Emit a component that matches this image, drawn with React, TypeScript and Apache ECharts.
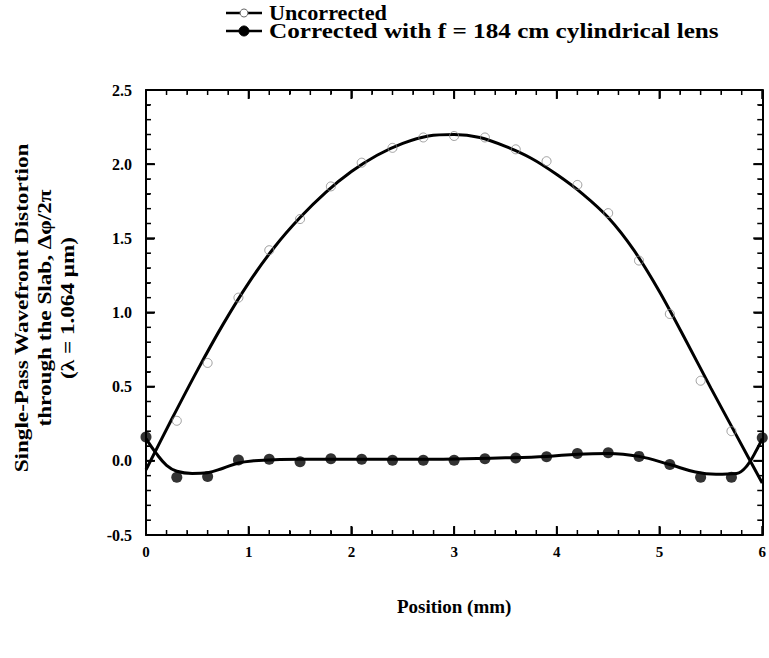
import React, { useEffect, useRef } from "react";
import * as echarts from "echarts";

// Measured positions (mm) of the data points
const pointX = [0, 0.3, 0.6, 0.9, 1.2, 1.5, 1.8, 2.1, 2.4, 2.7, 3.0, 3.3, 3.6, 3.9, 4.2, 4.5, 4.8, 5.1, 5.4, 5.7, 6.0];
// Uncorrected measured points (open circles); null where not visible
const uncorrectedPts = [null, 0.27, 0.66, 1.1, 1.42, 1.63, 1.85, 2.01, 2.11, 2.18, 2.19, 2.18, 2.1, 2.02, 1.86, 1.67, 1.35, 0.99, 0.54, 0.2, null];
// Corrected measured points (filled circles)
const correctedPts = [0.16, -0.11, -0.105, 0.005, 0.01, -0.006, 0.014, 0.01, 0.004, 0.004, 0.004, 0.014, 0.019, 0.027, 0.05, 0.055, 0.03, -0.025, -0.11, -0.11, 0.156];

// Fitted curve through the uncorrected data
const uncorrFitX = [0, 0.25, 0.5, 0.75, 1.0, 1.25, 1.5, 1.75, 2.0, 2.25, 2.5, 2.75, 3.0, 3.25, 3.5, 3.75, 4.0, 4.25, 4.5, 4.75, 5.0, 5.25, 5.5, 5.75, 6.0];
const uncorrFitY = [-0.06, 0.28, 0.61, 0.92, 1.2, 1.44, 1.64, 1.81, 1.95, 2.06, 2.14, 2.19, 2.2, 2.18, 2.12, 2.04, 1.93, 1.8, 1.64, 1.42, 1.14, 0.82, 0.49, 0.17, -0.15];

// Fitted curve through the corrected data
const corrFitX = [0, 0.1, 0.2, 0.3, 0.45, 0.6, 0.75, 0.9, 1.05, 1.25, 1.5, 2.0, 2.5, 3.0, 3.5, 3.9, 4.2, 4.5, 4.8, 5.1, 5.35, 5.55, 5.75, 5.85, 5.95, 6.0];
const corrFitY = [0.15, 0.05, -0.03, -0.07, -0.085, -0.08, -0.05, -0.015, 0.0, 0.008, 0.01, 0.01, 0.01, 0.012, 0.02, 0.03, 0.045, 0.05, 0.03, -0.025, -0.075, -0.09, -0.085, -0.035, 0.08, 0.15];

// Axis scales
const X_MIN = 0, X_MAX = 6, X_STEP = 1, X_MINOR = 5;
const Y_MIN = -0.5, Y_MAX = 2.5, Y_STEP = 0.5, Y_MINOR = 5;

const legendLabels = ["Uncorrected", "Corrected with f = 184 cm cylindrical lens"];
const yAxisTitle = ["Single-Pass Wavefront Distortion", "through the Slab, \u0394\u03c6/2\u03c0", "(\u03bb = 1.064 \u03bcm)"];
const xAxisTitle = "Position (mm)";

const FONT = '"Liberation Serif", "Times New Roman", serif';

function tickValues(min: number, max: number, step: number, minor: number) {
  const out: { v: number; major: boolean }[] = [];
  const n = Math.round((max - min) / step) * minor;
  for (let i = 0; i <= n; i++) {
    out.push({ v: +(min + (i * step) / minor).toFixed(6), major: i % minor === 0 });
  }
  return out;
}

function frame() {
  return {
    axisLine: { show: true, onZero: false, lineStyle: { color: "#000", width: 2 } },
    axisTick: { show: true, inside: true, length: 8, lineStyle: { color: "#000", width: 1.5 } },
    minorTick: { show: true, splitNumber: 5, length: 4, lineStyle: { color: "#000", width: 1 } },
    splitLine: { show: false },
    minorSplitLine: { show: false },
  };
}

export default function App() {
  const ref = useRef<HTMLDivElement>(null);
  useEffect(() => {
    if (!ref.current) return;
    const chart = echarts.init(ref.current, null, { renderer: "svg" });
    const pair = (xs: number[], ys: (number | null)[]) =>
      xs.map((x, i) => (ys[i] === null ? null : [x, ys[i]])).filter((d) => d !== null);

    const legendGraphic: any[] = [
      { type: "line", shape: { x1: 226, y1: 13, x2: 262, y2: 13 }, style: { stroke: "#000", lineWidth: 2.5 } },
      { type: "circle", shape: { cx: 244, cy: 13, r: 4 }, style: { fill: "#fff", stroke: "#666", lineWidth: 1 } },
      { type: "text", x: 269, y: 13, scaleX: 1.11, style: { text: legendLabels[0], font: `bold 20px ${FONT}`, fill: "#000", align: "left", verticalAlign: "middle" } },
      { type: "line", shape: { x1: 226, y1: 31, x2: 262, y2: 31 }, style: { stroke: "#000", lineWidth: 2.5 } },
      { type: "circle", shape: { cx: 244, cy: 31, r: 5 }, style: { fill: "#000", stroke: "#000", lineWidth: 1 } },
      { type: "text", x: 269, y: 31, scaleX: 1.26, style: { text: legendLabels[1], font: `bold 20px ${FONT}`, fill: "#000", align: "left", verticalAlign: "middle" } },
      {
        type: "text", x: 45, y: 308, rotation: Math.PI / 2, scaleX: 1.22,
        style: { text: yAxisTitle.join("\n"), font: `bold 19px ${FONT}`, lineHeight: 23, fill: "#000", align: "center", verticalAlign: "middle" },
      },
    ];

    const option: any = {
      animation: false,
      backgroundColor: "#fff",
      grid: { left: 146, right: 2, top: 90, bottom: 123, containLabel: false },
      xAxis: [
        {
          type: "value", min: X_MIN, max: X_MAX, interval: X_STEP, position: "bottom",
          ...frame(),
          axisLabel: { show: true, margin: 9, color: "#000", fontFamily: FONT, fontSize: 15, fontWeight: "bold" },
          name: xAxisTitle, nameLocation: "middle", nameGap: 62,
          nameTextStyle: { color: "#000", fontFamily: FONT, fontSize: 19, fontWeight: "bold" },
        },
        {
          type: "value", min: X_MIN, max: X_MAX, interval: X_STEP, position: "top",
          ...frame(),
          axisLabel: { show: false },
        },
      ],
      yAxis: [
        {
          type: "value", min: Y_MIN, max: Y_MAX, interval: Y_STEP, position: "left",
          ...frame(),
          axisLabel: {
            show: true, margin: 14, color: "#000", fontFamily: FONT, fontSize: 16, fontWeight: "bold",
            formatter: (v: number) => v.toFixed(1),
          },
        },
        {
          type: "value", min: Y_MIN, max: Y_MAX, interval: Y_STEP, position: "right",
          ...frame(),
          axisLabel: { show: false },
        },
      ],
      series: [
        {
          name: legendLabels[0] + " fit", type: "line", smooth: 0.3, symbol: "none",
          data: pair(uncorrFitX, uncorrFitY),
          lineStyle: { color: "#000", width: 3 }, z: 3,
        },
        {
          name: legendLabels[0], type: "scatter", symbol: "circle", symbolSize: 9,
          data: pair(pointX, uncorrectedPts),
          itemStyle: { color: "rgba(255,255,255,0)", borderColor: "#888", borderWidth: 1 }, z: 4,
        },
        {
          name: legendLabels[1] + " fit", type: "line", smooth: 0.4, symbol: "none",
          data: pair(corrFitX, corrFitY),
          lineStyle: { color: "#000", width: 3 }, z: 3,
        },
        {
          name: legendLabels[1], type: "scatter", symbol: "circle", symbolSize: 11,
          data: pair(pointX, correctedPts),
          itemStyle: { color: "#000" }, z: 5,
        },
      ],
      graphic: legendGraphic,
    };
    chart.setOption(option);

    // Frame tick marks on all four sides, positioned through the chart's own scales
    const ticks: any[] = [];
    const toPx = (x: number, y: number) => chart.convertToPixel({ gridIndex: 0 }, [x, y]) as number[];
    for (const t of tickValues(X_MIN, X_MAX, X_STEP, X_MINOR)) {
      const len = t.major ? 9 : 5;
      const style = { stroke: "#000", lineWidth: t.major ? 2 : 1.5 };
      const b = toPx(t.v, Y_MIN);
      const tp = toPx(t.v, Y_MAX);
      ticks.push({ type: "line", silent: true, z: 10, shape: { x1: b[0], y1: b[1], x2: b[0], y2: b[1] - len }, style });
      ticks.push({ type: "line", silent: true, z: 10, shape: { x1: tp[0], y1: tp[1], x2: tp[0], y2: tp[1] + len }, style });
    }
    for (const t of tickValues(Y_MIN, Y_MAX, Y_STEP, Y_MINOR)) {
      const len = t.major ? 9 : 5;
      const style = { stroke: "#000", lineWidth: t.major ? 2 : 1.5 };
      const l = toPx(X_MIN, t.v);
      const r = toPx(X_MAX, t.v);
      ticks.push({ type: "line", silent: true, z: 10, shape: { x1: l[0], y1: l[1], x2: l[0] + len, y2: l[1] }, style });
      ticks.push({ type: "line", silent: true, z: 10, shape: { x1: r[0], y1: r[1], x2: r[0] - len, y2: r[1] }, style });
    }
    chart.setOption({ graphic: [...legendGraphic, ...ticks] });

    return () => chart.dispose();
  }, []);
  return <div ref={ref} style={{ position: "fixed", left: 0, top: 0, width: 769, height: 658 }} />;
}
